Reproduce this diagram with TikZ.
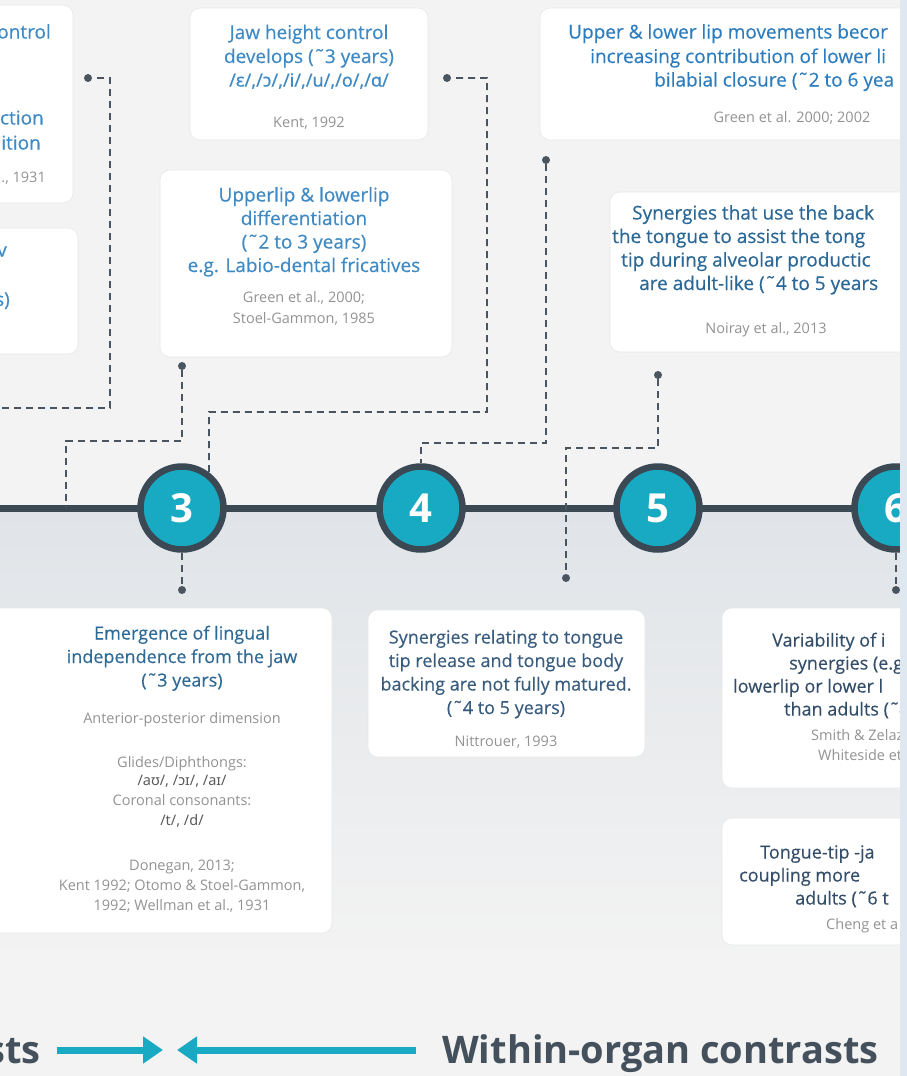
\documentclass[tikz,border=0pt]{standalone}
\usepackage{fontspec}
\setmainfont{Open Sans}
\newfontfamily\ipafont{Noto Sans}
\newfontfamily\ttlfont[FakeBold=0.35]{Open Sans}
\newfontfamily\ipattl[FakeBold=0.35]{Noto Sans}
\usetikzlibrary{arrows.meta}
\definecolor{bgtop}{HTML}{F3F3F3}
\definecolor{bglow}{HTML}{E0E4E8}
\definecolor{stripc}{HTML}{DFE8F0}
\definecolor{cardedge}{HTML}{E6E8EA}
\definecolor{tealc}{HTML}{19AAC3}
\definecolor{ringc}{HTML}{3B4955}
\definecolor{dashc}{HTML}{4B5560}
\definecolor{blueA}{HTML}{3F8AC4}
\definecolor{blueB}{HTML}{2D7DBE}
\definecolor{blueC}{HTML}{2B6896}
\definecolor{blueD}{HTML}{2E6A96}
\definecolor{blueE}{HTML}{395C7E}
\definecolor{blueF}{HTML}{344E69}
\definecolor{citegray}{HTML}{939393}
\definecolor{ipagray}{HTML}{5A5A5A}
\definecolor{headc}{HTML}{44515C}
\newcommand\linestack[6]{\foreach \t [count=\i] in {#6} {\node[#4] (#1\i) at (#2,{#3+#5*(\i-1)}) {\t};}}
\begin{document}
\begin{tikzpicture}[x=1pt,y=-1pt,
  card/.style={rectangle, rounded corners=10pt, fill=white, draw=cardedge, line width=0.6pt, inner sep=0pt},
  ttl/.style={font=\fontsize{19}{22}\selectfont\ttlfont, anchor=base, inner sep=0pt},
  ttls/.style={font=\fontsize{18}{22}\selectfont\ttlfont, anchor=base, inner sep=0pt},
  ttlw/.style={ttl, anchor=base west},
  ttlsw/.style={ttls, anchor=base west},
  ttle/.style={ttl, anchor=base east},
  cite/.style={font=\fontsize{14.5}{17}\selectfont, text=citegray, anchor=base, inner sep=0pt},
  citew/.style={cite, anchor=base west},
  ipa/.style={font=\fontsize{14.5}{17}\selectfont\ipafont, text=ipagray, anchor=base, inner sep=0pt},
  stage/.style={circle, fill=tealc, draw=ringc, line width=6.5pt, minimum size=83pt, inner sep=0pt,
    text=white, font=\fontsize{40}{40}\selectfont\bfseries},
  dot/.style={circle, fill=dashc, minimum size=8pt, inner sep=0pt},
  dl/.style={draw=dashc, line width=1.8pt, dash pattern=on 7pt off 5pt},
  tl/.style={draw=ringc, line width=7pt},
  tarrow/.style={draw=tealc, line width=7pt, -{Triangle[length=20pt,width=26pt]}},
  head/.style={font=\fontsize{38}{40}\selectfont\bfseries, text=headc, inner sep=0pt}
]
\useasboundingbox (0,0) rectangle (907,1076);
\fill[bgtop] (0,0) rectangle (907,1076);
\shade[top color=bglow, bottom color=bgtop] (0,512) rectangle (907,960);

% cards
\node[card, minimum width=103pt, minimum height=198pt] (bA) at (21.5,104) {};
\node[card, minimum width=108pt, minimum height=126pt] (bB) at (24,291) {};
\node[card, minimum width=238pt, minimum height=132pt] (bC) at (309,74) {};
\node[card, minimum width=292pt, minimum height=187pt] (bD) at (306,263.5) {};
\node[card, minimum width=420pt, minimum height=132pt] (bE) at (750,74) {};
\node[card, minimum width=350pt, minimum height=160pt] (bF) at (785,272) {};
\node[card, minimum width=352pt, minimum height=325pt] (bG) at (156,770.5) {};
\node[card, minimum width=277pt, minimum height=147pt] (bH) at (506.5,683.5) {};
\node[card, minimum width=278pt, minimum height=180pt] (bI) at (861,698) {};
\node[card, minimum width=278pt, minimum height=127pt] (bJ) at (861,881.5) {};

% box A
\node[ttle, text=blueA] (tA1) at (51,38.5) {ontrol};
\node[ttle, text=blueA] (tA2) at (44,124.5) {ction};
\node[ttle, text=blueA] (tA3) at (41,149.5) {ition};
\node[cite, anchor=base east] (tA4) at (46,182) {., 1931};
% box B
\node[ttle, text=blueA] (tB1) at (7,256.5) {v};
\node[ttle, text=blueA] (tB2) at (10,306) {s)};
% box C
\node[ttl, text=blueA] (tC1) at (309,39) {Jaw height control};
\node[ttl, text=blueA] (tC2) at (309,63) {develops (˜3 years)};
\node[ttl, text=blueA, font=\fontsize{18}{22}\selectfont\ipattl] (tC3) at (309,86.5) {/ɛ/,/ɔ/,/i/,/u/,/o/,/ɑ/};
\node[cite] (tC4) at (309,127) {Kent, 1992};
% box D
\linestack{tD}{304}{201.5}{ttl, text=blueA}{23.5}{{Upperlip \& lowerlip}, differentiation, (˜2 to 3 years), {e.g. Labio-dental fricatives}}
\linestack{cD}{304}{302.5}{cite}{21}{{Green et al., 2000;}, {Stoel-Gammon, 1985}}
% box E
\node[ttlw, text=blueB] (tE1) at (568,38.5) {Upper \& lower lip movements becor};
\node[ttlw, text=blueB] (tE2) at (590,63) {increasing contribution of lower li};
\node[ttlw, text=blueB] (tE3) at (654,86.5) {bilabial closure (˜2 to 6 yea};
\node[cite] (tE4) at (792,122) {Green et al. 2000; 2002};
% box F
\node[ttlw, text=blueC] (tF1) at (632,219.5) {Synergies that use the back};
\node[ttlw, text=blueC] (tF2) at (612,243) {the tongue to assist the tong};
\node[ttlw, text=blueC] (tF3) at (621,266.5) {tip during alveolar productic};
\node[ttlw, text=blueC] (tF4) at (639,290) {are adult-like (˜4 to 5 years};
\node[cite] (tF5) at (766,333) {Noiray et al., 2013};
% box G
\linestack{tG}{182}{639.5}{ttls, text=blueD}{23.5}{Emergence of lingual, {independence from the jaw}, (˜3 years)}
\node[cite] (cG1) at (182,723) {Anterior-posterior dimension};
\node[cite] (cG2) at (182,767) {Glides/Diphthongs:};
\node[ipa] (cG3) at (182,785.5) {/aʊ/, /ɔɪ/, /aɪ/};
\node[cite] (cG4) at (182,805.5) {Coronal consonants:};
\node[ipa] (cG5) at (182,825.5) {/t/, /d/};
\linestack{dG}{182}{870}{cite}{20}{{Donegan, 2013;}, {Kent 1992; Otomo \& Stoel-Gammon,}, {1992; Wellman et al., 1931}}
% box H
\linestack{tH}{506}{643.5}{ttls, text=blueE}{23.5}{{Synergies relating to tongue}, {tip release and tongue body}, {backing are not fully matured.}, (˜4 to 5 years)}
\node[cite] (cH1) at (506,746) {Nittrouer, 1993};
% box I
\node[ttlsw, text=blueF] (tI1) at (772,646.5) {Variability of i};
\node[ttlsw, text=blueF] (tI2) at (789,669.5) {synergies (e.g.};
\node[ttlsw, text=blueF] (tI3) at (733,692.5) {lowerlip or lower l};
\node[ttlsw, text=blueF] (tI4) at (784,715.5) {than adults (˜4};
\node[citew] (cI1) at (811,740) {Smith \& Zelaz};
\node[citew] (cI2) at (818,760) {Whiteside et};
% box J
\node[ttlsw, text=blueF] (tJ1) at (760,858.5) {Tongue-tip -ja};
\node[ttlsw, text=blueF] (tJ2) at (739,881.5) {coupling more};
\node[ttlsw, text=blueF] (tJ3) at (795,904.5) {adults (˜6 t};
\node[citew] (cJ1) at (826,929.5) {Cheng et a};

% timeline
\coordinate (tlL) at (-5,508);
\coordinate (tlR) at (912,508);
\draw[tl] (tlL) -- (tlR);

% dots and corners
\node[dot] (dA) at (88,78) {};
\node[dot] (dD) at (182,366) {};
\node[dot] (dC) at (447,78) {};
\node[dot] (dE) at (546,160) {};
\node[dot] (dF) at (658,375) {};
\node[dot] (dF2) at (566,578) {};
\node[dot] (d3) at (182,590) {};
\node[dot] (d6) at (896,590) {};
\coordinate (kA1) at (110,78);
\coordinate (kA2) at (110,408);
\coordinate (kA3) at (-2,408);
\coordinate (kD1) at (182,441);
\coordinate (kD2) at (66,441);
\coordinate (kD3) at (66,508);
\coordinate (kC1) at (487,78);
\coordinate (kC2) at (487,412);
\coordinate (kC3) at (209,412);
\coordinate (kE1) at (546,443);
\coordinate (kE2) at (421,443);
\coordinate (kF1) at (658,448);
\coordinate (kF2) at (566,448);

% stages
\node[stage] (c3) at (182,508) {3};
\node[stage] (c4) at (421,508) {4};
\node[stage] (c5) at (658,508) {5};
\node[stage] (c6) at (896,508) {6};

% connectors
\draw[dl] (dA.east) ++(5,0) -- (kA1) -- (kA2) -- (kA3);
\draw[dl] (dD) -- (kD1) -- (kD2) -- (kD3);
\draw[dl] (dC.east) ++(5,0) -- (kC1) -- (kC2) -- (kC3) -- (c3.53);
\draw[dl] (dE) -- (kE1) -- (kE2) -- (c4.north);
\draw[dl] (dF) -- (kF1) -- (kF2) -- (dF2);
\draw[dl] (c3.south) -- (d3);
\draw[dl] (c6.south) -- (d6);

% bottom legend
\node[head, anchor=base east] (hL) at (41,1063) {sts};
\node[head, anchor=base west] (hR) at (442,1063) {Within-organ contrasts};
\coordinate (a1s) at (57,1050);
\coordinate (a1e) at (163,1050);
\coordinate (a2s) at (416,1050);
\coordinate (a2e) at (177,1050);
\draw[tarrow] (a1s) -- (a1e);
\draw[tarrow] (a2s) -- (a2e);

% right strip
\fill[stripc] (900,0) rectangle (907,1076);
\end{tikzpicture}
\end{document}
